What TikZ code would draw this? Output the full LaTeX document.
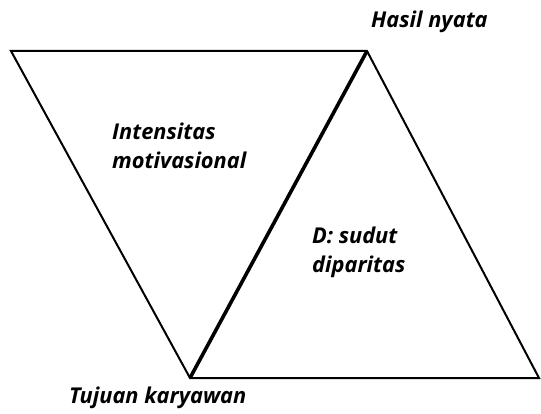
\documentclass[tikz,border=0pt]{standalone}
\usepackage{fontspec}
\setmainfont{Open Sans}
\usetikzlibrary{positioning}

\begin{document}
\begin{tikzpicture}[x=1pt,y=-1pt,
  txt/.style={font=\bfseries\itshape\fontsize{21.8}{29}\selectfont,align=left,inner sep=0pt},
  edge/.style={line width=2pt,line join=miter},
  shared/.style={line width=3.6pt}
]
\useasboundingbox (0,0) rectangle (541,414);
\coordinate (tl) at (11,51);
\coordinate (apex) at (367,51);
\coordinate (low) at (190,378);
\coordinate (br) at (539,378);
% the two triangles
\draw[edge] (low) -- (tl) -- (apex) -- (br) -- cycle;
\draw[shared] (low) -- (apex);
\node[txt,anchor=west] (hasil) at (371,22) {Hasil nyata};
\node[txt,anchor=west] (intens) at (112,146) {Intensitas\\motivasional};
\node[txt,anchor=west] (sudut) at (312,252) {D: sudut\\diparitas};
\node[txt,anchor=west] (tujuan) at (69,398) {Tujuan karyawan};
\end{tikzpicture}
\end{document}
